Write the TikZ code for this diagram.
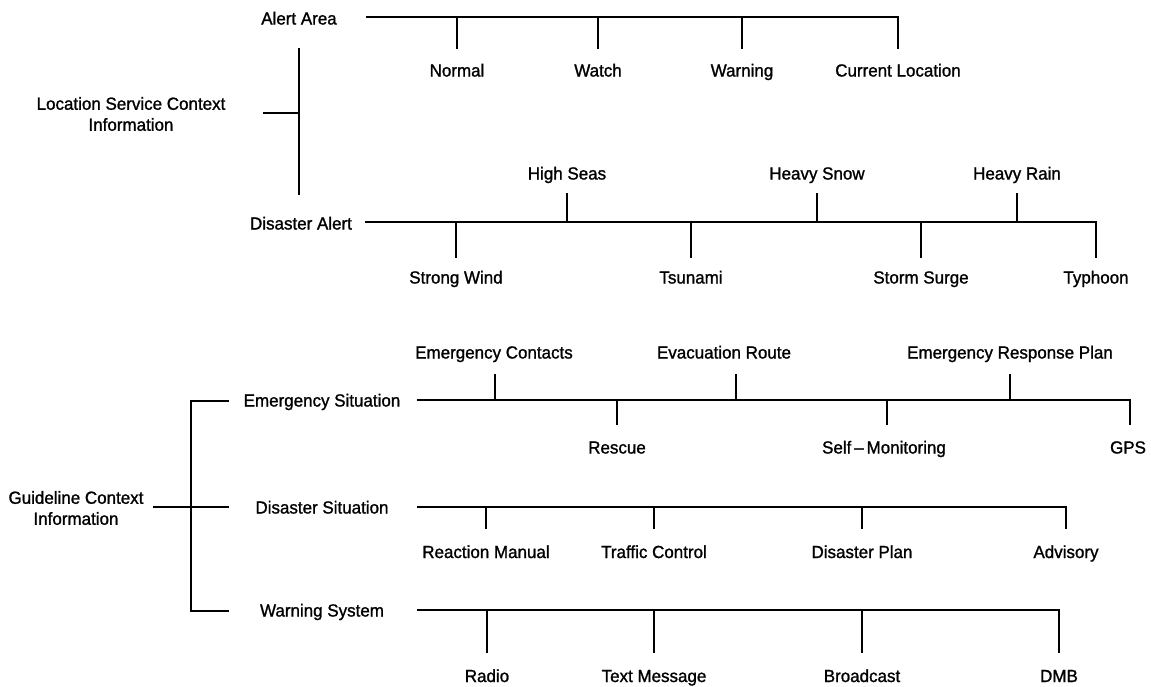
\documentclass[tikz,border=0pt]{standalone}
\usepackage{fontspec}
\setmainfont[FakeBold=1.2,FakeStretch=0.97]{Liberation Sans}
\begin{document}
\begin{tikzpicture}[x=1pt,y=-1pt,
  lbl/.style={font=\fontsize{17.5}{21}\selectfont, inner sep=0pt, anchor=base},
  blk/.style={font=\fontsize{17.5}{21}\selectfont, inner sep=0pt, align=center},
  wire/.style={line width=1.4pt, line cap=rect}]
\useasboundingbox (0,0) rectangle (1151,686);

% ---------- Location service context ----------
\node[blk] (lsc) at (131,114) {Location Service Context\\Information};
\node[lbl] (aa) at (299,24.5) {Alert Area};
\node[lbl] (da) at (301,229.5) {Disaster Alert};
\coordinate (lscT) at (299,49);
\coordinate (lscB) at (299,194);
\coordinate (lscM) at (299,113);
\coordinate (lscS) at (264,113);
\draw[wire] (lscT) -- (lscB);
\draw[wire] (lscS) -- (lscM);

% Alert area branch
\coordinate (aa0) at (367,17);
\coordinate (aa1) at (898,17);
\draw[wire] (aa0) -- (aa1);
\foreach \x/\n/\t in {457/nor/Normal, 598/wat/Watch, 742/war/Warning, 898/cur/Current Location}{
  \coordinate (\n-a) at (\x,17);
  \coordinate (\n-b) at (\x,48);
  \draw[wire] (\n-a) -- (\n-b);
  \node[lbl] (\n) at (\x,76.5) {\t};
}

% Disaster alert branch
\coordinate (da0) at (366,222);
\coordinate (da1) at (1096,222);
\draw[wire] (da0) -- (da1);
\foreach \x/\n/\t in {567/hse/High Seas, 817/hsn/Heavy Snow, 1017/hra/Heavy Rain}{
  \coordinate (\n-a) at (\x,222);
  \coordinate (\n-b) at (\x,194);
  \draw[wire] (\n-a) -- (\n-b);
  \node[lbl] (\n) at (\x,179.5) {\t};
}
\foreach \x/\n/\t in {456/swi/Strong Wind, 691/tsu/Tsunami, 921/ssu/Storm Surge, 1096/typ/Typhoon}{
  \coordinate (\n-a) at (\x,222);
  \coordinate (\n-b) at (\x,257);
  \draw[wire] (\n-a) -- (\n-b);
  \node[lbl] (\n) at (\x,283.5) {\t};
}

% ---------- Guideline context ----------
\node[blk] (gci) at (76,508) {Guideline Context\\Information};
\node[lbl] (es) at (322,406.5) {Emergency Situation};
\node[lbl] (ds) at (322,513.5) {Disaster Situation};
\node[lbl] (ws) at (322,616.5) {Warning System};
\coordinate (brT) at (191,401);
\coordinate (brM) at (191,507);
\coordinate (brB) at (191,611);
\coordinate (brT2) at (228,401);
\coordinate (brM2) at (228,507);
\coordinate (brB2) at (228,611);
\coordinate (brS) at (154,507);
\draw[wire] (brT2) -- (brT) -- (brB) -- (brB2);
\draw[wire] (brS) -- (brM2);

% Emergency situation branch
\coordinate (es0) at (418,400);
\coordinate (es1) at (1130,400);
\draw[wire] (es0) -- (es1);
\foreach \x/\n in {495/eco, 736/evr, 1010/erp}{
  \coordinate (\n-a) at (\x,400);
  \coordinate (\n-b) at (\x,375);
  \draw[wire] (\n-a) -- (\n-b);
}
\node[lbl] (eco) at (494,358.5) {Emergency Contacts};
\node[lbl] (evr) at (724,358.5) {Evacuation Route};
\node[lbl] (erp) at (1010,358.5) {Emergency Response Plan};
\foreach \x/\n in {617/res, 887/smo, 1130/gps}{
  \coordinate (\n-a) at (\x,400);
  \coordinate (\n-b) at (\x,424);
  \draw[wire] (\n-a) -- (\n-b);
}
\node[lbl] (res) at (617,453.5) {Rescue};
\node[lbl] (smo) at (884,453.5) {Self\thinspace--\thinspace Monitoring};
\node[lbl] (gps) at (1128,453.5) {GPS};

% Disaster situation branch
\coordinate (ds0) at (418,507);
\coordinate (ds1) at (1066,507);
\draw[wire] (ds0) -- (ds1);
\foreach \x/\n/\t in {486/rma/Reaction Manual, 654/tco/Traffic Control, 862/dpl/Disaster Plan, 1066/adv/Advisory}{
  \coordinate (\n-a) at (\x,507);
  \coordinate (\n-b) at (\x,528);
  \draw[wire] (\n-a) -- (\n-b);
  \node[lbl] (\n) at (\x,558) {\t};
}

% Warning system branch
\coordinate (ws0) at (418,610);
\coordinate (ws1) at (1059,610);
\draw[wire] (ws0) -- (ws1);
\foreach \x/\n/\t in {487/rad/Radio, 654/tme/Text Message, 862/bca/Broadcast, 1059/dmb/DMB}{
  \coordinate (\n-a) at (\x,610);
  \coordinate (\n-b) at (\x,652);
  \draw[wire] (\n-a) -- (\n-b);
  \node[lbl] (\n) at (\x,682) {\t};
}
\end{tikzpicture}
\end{document}
